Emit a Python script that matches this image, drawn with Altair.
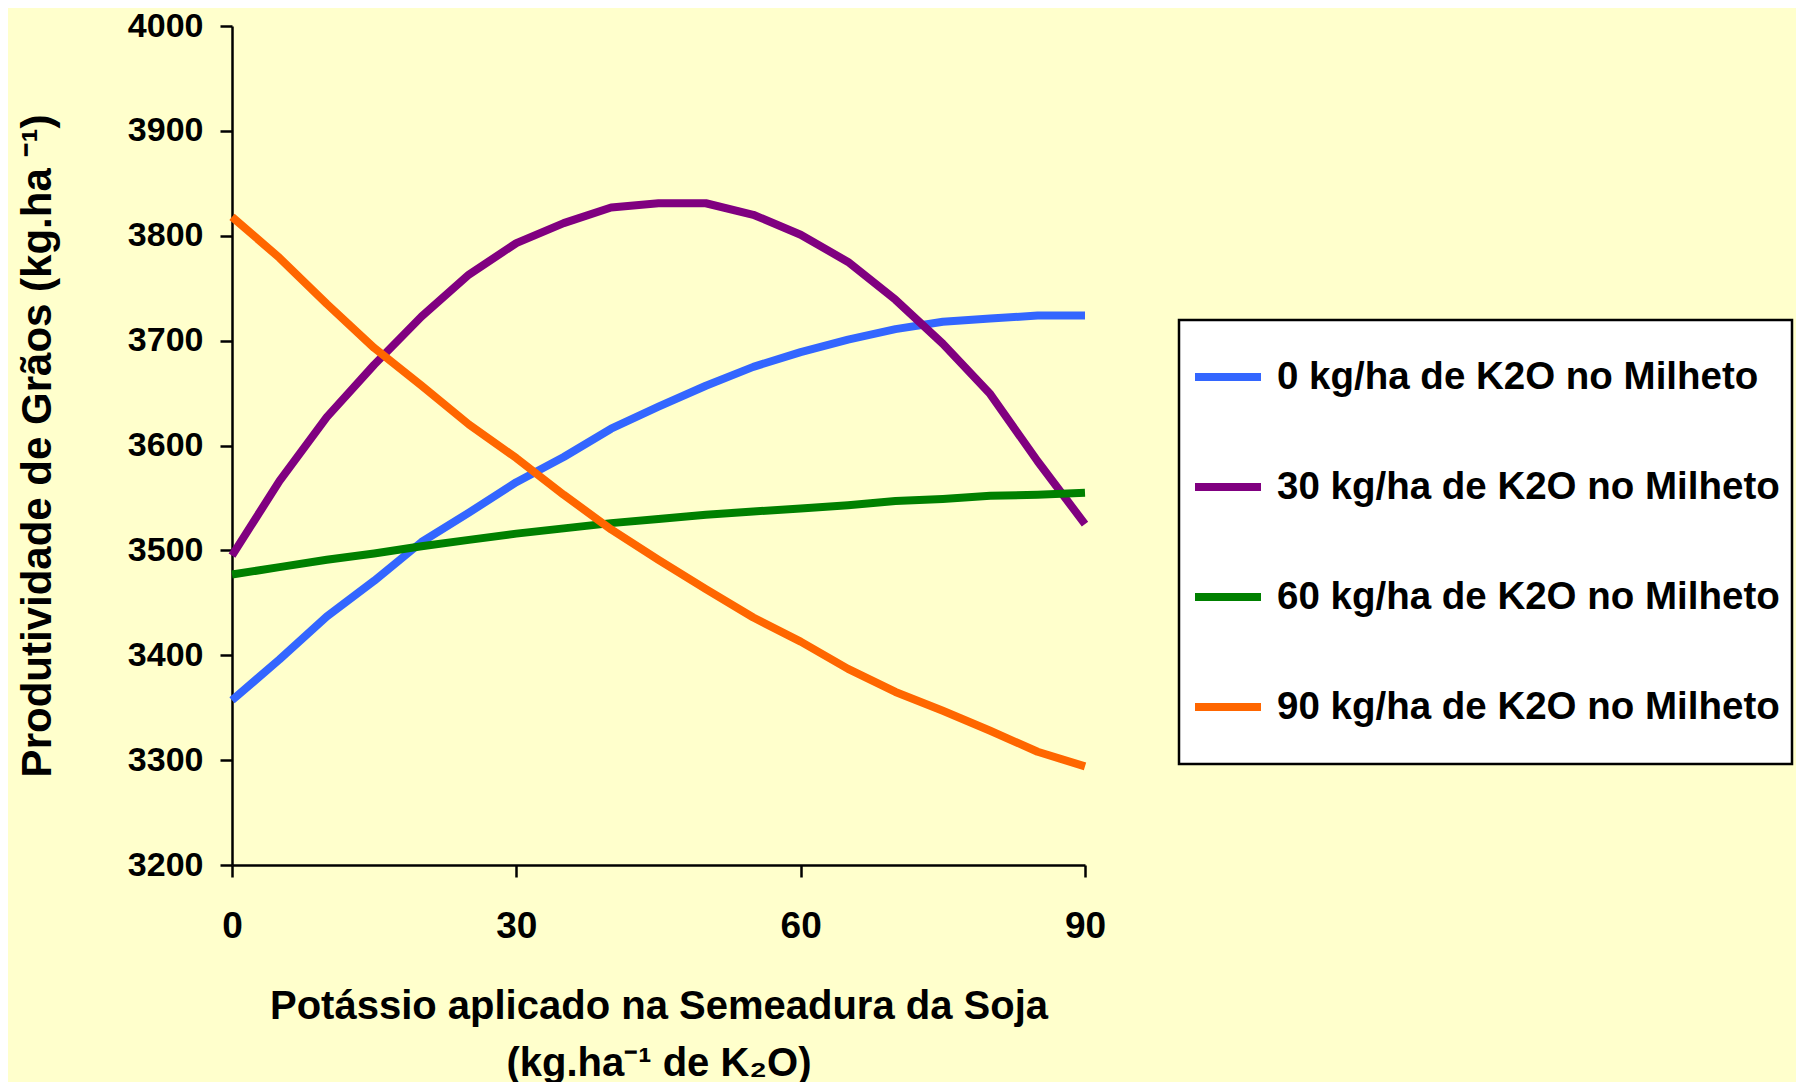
import altair as alt
import pandas as pd

# Potássio aplicado na semeadura da soja (kg/ha de K2O)
x_vals = [0, 5, 10, 15, 20, 25, 30, 35, 40, 45, 50, 55, 60, 65, 70, 75, 80, 85, 90]

# Produtividade de grãos (kg/ha) por dose de K2O no milheto
k2o_0 = [3357, 3396, 3437, 3471, 3508, 3536, 3565, 3589, 3616, 3637,
         3657, 3675, 3689, 3701, 3711, 3718, 3721, 3724, 3724]
k2o_30 = [3495, 3566, 3627, 3677, 3723, 3763, 3793, 3812, 3827, 3831,
          3831, 3820, 3801, 3775, 3739, 3697, 3649, 3585, 3525]
k2o_60 = [3477, 3484, 3491, 3497, 3504, 3510, 3516, 3521, 3526, 3530,
          3534, 3537, 3540, 3543, 3547, 3549, 3552, 3553, 3555]
k2o_90 = [3818, 3779, 3735, 3693, 3657, 3620, 3588, 3553, 3520, 3491,
          3463, 3436, 3413, 3387, 3365, 3347, 3328, 3308, 3294]

series_names = [
    "0 kg/ha de K2O no Milheto",
    "30 kg/ha de K2O no Milheto",
    "60 kg/ha de K2O no Milheto",
    "90 kg/ha de K2O no Milheto",
]
series_colors = ["#3366FF", "#800080", "#008000", "#FF6600"]

y_ticks = [3200, 3300, 3400, 3500, 3600, 3700, 3800, 3900, 4000]
x_ticks = [0, 30, 60, 90]

rows = []
for name, vals in zip(series_names, [k2o_0, k2o_30, k2o_60, k2o_90]):
    for xv, yv in zip(x_vals, vals):
        rows.append({"k2o_soja": xv, "produtividade": yv, "serie": name})
df = pd.DataFrame(rows)

FONT = "Liberation Sans"

base = alt.Chart(df).mark_line(strokeWidth=8, strokeJoin="round").encode(
    x=alt.X(
        "k2o_soja:Q",
        scale=alt.Scale(domain=[0, 90], nice=False, zero=False),
        axis=alt.Axis(
            values=x_ticks,
            format="d",
            title=["Potássio aplicado na Semeadura da Soja", "(kg.ha\u207b\u00b9 de K\u2082O)"],
            titleFontSize=40,
            titleLineHeight=57,
            titlePadding=42,
            labelFontSize=37,
            labelPadding=31,
            labelFlush=False,
            tickSize=12,
        ),
    ),
    y=alt.Y(
        "produtividade:Q",
        scale=alt.Scale(domain=[3200, 4000], nice=False, zero=False),
        axis=alt.Axis(
            values=y_ticks,
            format="d",
            title="Produtividade de Grãos (kg.ha \u207b\u00b9)",
            titleFontSize=42,
            titlePadding=68,
            labelFontSize=34,
            labelPadding=17,
            labelFlush=False,
            tickSize=12,
        ),
    ),
    color=alt.Color(
        "serie:N",
        scale=alt.Scale(domain=series_names, range=series_colors),
        legend=alt.Legend(
            title=None,
            orient="none",
            legendX=947,
            legendY=294,
            padding=12,
            clipHeight=90,
            symbolType="stroke",
            symbolSize=4356,
            symbolStrokeWidth=8,
            rowPadding=20,
            labelFontSize=38.5,
            labelOffset=12,
            labelLimit=800,
            fillColor="#FFFFFF",
            strokeColor="#000000",
        ),
    ),
).properties(
    width=853,
    height=839,
    padding={"left": 224, "top": 18, "right": 711, "bottom": 217},
    autosize=alt.AutoSizeParams(type="none"),
    background="#FFFFCC",
).configure_view(
    stroke=None
).configure_axis(
    grid=False,
    domainColor="#000000",
    domainWidth=2.5,
    tickColor="#000000",
    tickWidth=2.5,
    labelFont=FONT,
    labelFontWeight="bold",
    labelColor="#000000",
    titleFont=FONT,
    titleFontWeight="bold",
    titleColor="#000000",
)

try:
    chart = base.configure_legend(
        labelFont=FONT,
        labelFontWeight="bold",
        labelColor="#000000",
        strokeWidth=2.5,
    )
    chart.to_dict()
except Exception:
    chart = base.configure_legend(
        labelFont=FONT,
        labelFontWeight="bold",
        labelColor="#000000",
    )

chart.save("out.html", embed_options={"renderer": "svg", "actions": False})
